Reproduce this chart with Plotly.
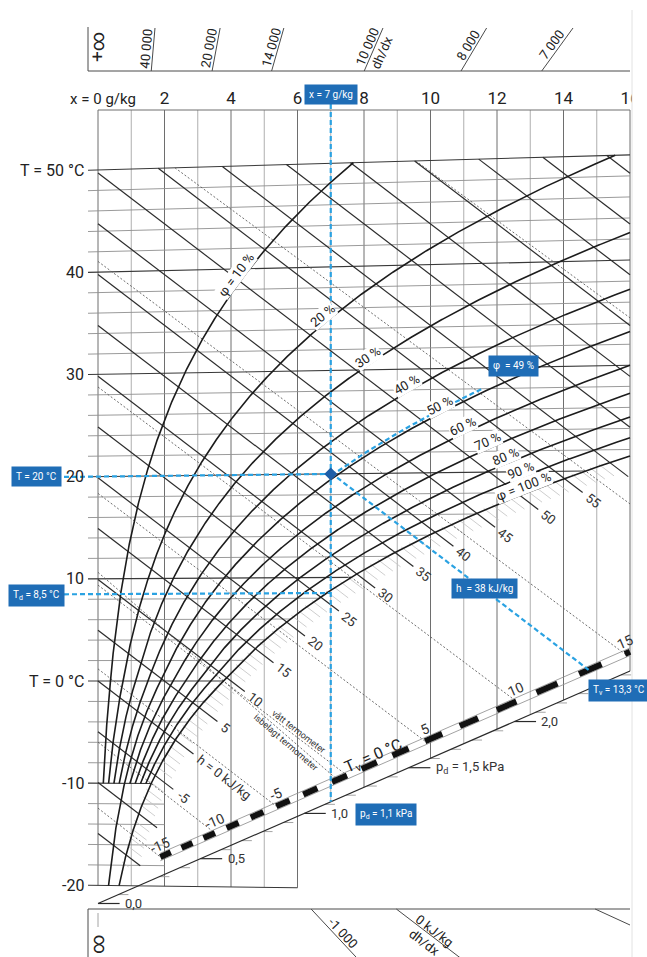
import re
import numpy as np
import plotly.graph_objects as go

# Mollier h,x-diagram for moist air at p = 101.325 kPa.
# Drawing ordinate Y = h - r0*x, so the 0 °C isotherm runs horizontally.
P_AIR = 101.325      # kPa
R0 = 2.501           # kJ/g, heat of vaporisation at 0 °C
CP_AIR = 1.006       # kJ/(kg K)
CP_VAP = 0.00186     # kJ/(g K)
CW = 0.00419         # kJ/(g K), water on the wet bulb
LF = 0.3335          # kJ/g, heat of fusion (ice-covered bulb)

# ---- isoline levels and scale values --------------------------------------
X_GRID = list(range(0, 17))                                   # g/kg
X_TICKS = [0, 2, 4, 6, 8, 10, 12, 14, 16]
X_TICK_TEXT = ["x = 0 g/kg", "2", "4", "6", "8", "10", "12", "14", "16"]
T_GRID = list(range(-20, 51, 2))                              # °C
T_MAJOR = [50, 40, 30, 20, 10, 0, -10, -20]
T_TICK_TEXT = ["T = 50 °C", "40", "30", "20", "10", "T = 0 °C", "-10", "-20"]
RH_LEVELS = [10, 20, 30, 40, 50, 60, 70, 80, 90, 100]         # %
RH_TEXT = ["φ = 10 %", "20 %", "30 %", "40 %", "50 %", "60 %", "70 %",
           "80 %", "90 %", "φ = 100 %"]
RH_TEXT_AT = [4.33, 6.89, 8.21, 9.38, 10.38, 11.04, 11.79, 12.33, 12.78, 12.87]
RH_TO_MINUS20 = [50, 100]
H_LEVELS = list(range(-15, 91, 5))                            # kJ/kg
H_TICKS = [h for h in range(-19, 60) if h % 5]
H_TEXT = {-5: "-5", 0: "h = 0 kJ/kg", 5: "5", 10: "10", 15: "15", 20: "20",
          25: "25", 30: "30", 35: "35", 40: "40", 45: "45", 50: "50", 55: "55"}
TV_LINES = [-15, -10, -5, 0, 5, 10, 15, 20, 25]               # wet bulb, °C
TV_TICKS = [-15, -10, -5, 0, 5, 10, 15]
TV_TEXT = ["-15", "-10", "-5", "T<sub>v</sub> = 0 °C", "5", "10", "15"]
PD_MINOR = [round(0.1 * i, 1) for i in range(0, 26)]          # kPa
PD_MAJOR = [0.0, 0.5, 1.0, 1.5, 2.0]
PD_TEXT = ["0,0", "0,5", "1,0", "p<sub>d</sub> = 1,5 kPa", "2,0"]
DHDX_TOP = [40000, 20000, 14000, 10000, 8000, 7000]           # kJ/kg
DHDX_TOP_TEXT = ["40 000", "20 000", "14 000", "10 000", "8 000", "7 000"]
DHDX_BOTTOM = [-1000, 0, 1000]

# worked example
EX_X, EX_T, EX_RH, EX_H, EX_TD, EX_TV, EX_PD = 7.0, 20.0, 49, 38, 8.5, 13.3, 1.1

# ---- page geometry ----------------------------------------------------------
W, H = 647, 957
X0, KX = 98.0, 33.25        # pixel of x = 0, pixels per g/kg
Y0, KY = 681.0, 10.16       # pixel of Y = 0, pixels per kJ/kg
A_TV, A_PD, B_SC = -20.0, -21.9, 1.43   # wet-bulb and vapour-pressure scale lines
FONT = "Roboto, sans-serif"


def gx(px):
    return (px - X0) / KX


def gy(py):
    return (Y0 - py) / KY


# ---- psychrometrics ---------------------------------------------------------
def p_sat(T):
    T = np.asarray(T, float)
    water = 0.61094 * np.exp(17.625 * T / (T + 243.04))
    ice = 0.61115 * np.exp(22.452 * T / (T + 272.55))
    return np.where(T >= 0, water, ice)


def x_rh(T, rh):
    pv = rh / 100.0 * p_sat(T)
    return 622.0 * pv / (P_AIR - pv)


def Y_T(T, x):
    return CP_AIR * T + CP_VAP * x * T


def T_on_rh(x, rh):
    ps = x * P_AIR / ((rh / 100.0) * (622.0 + x))
    a = np.log(ps / 0.61094)
    return 243.04 * a / (17.625 - a)


_T = np.linspace(-30, 45, 15001)
_XS = x_rh(_T, 100)
_HS = CP_AIR * _T + _XS * (R0 + CP_VAP * _T)


def x_sat_h(h):
    return float(np.interp(h, _HS, _XS))


def sat_state(t):
    xs = float(x_rh(t, 100))
    return xs, CP_AIR * t + xs * (R0 + CP_VAP * t)


Y_TOP50 = Y_T(50, 0)
K50 = CP_VAP * 50


def line_start(c0, m):
    if c0 <= Y_TOP50:
        return 0.0
    return (c0 - Y_TOP50) / (K50 - m)


def wb_line(tv, s):
    xs, hs = sat_state(tv)
    return hs - s * xs, s - R0


def tv_x(tv):
    c0, m = wb_line(tv, CW * tv)
    return (c0 - A_TV) / (B_SC - m)


def pd_x(pd):
    return 622.0 * pd / (P_AIR - pd)


def text_w(s, size):
    s = re.sub("<[^>]+>", "", s)
    return sum(0.28 if c == " " else 0.52 for c in s) * size


ANG_H = np.degrees(np.arctan(R0 * KY / KX))
ANG_SC = np.degrees(np.arctan(B_SC * KY / KX))

# ---- line collections -------------------------------------------------------
STYLES = {
    "grid_minor": dict(color="#a6a6a6", width=0.9),
    "grid_major": dict(color="#6e6e6e", width=1.0),
    "iso_minor": dict(color="#8e8e8e", width=0.9),
    "iso_major": dict(color="#383838", width=1.1),
    "h_tick": dict(color="#c2c2c2", width=0.8),
    "h_line": dict(color="#2c2c2c", width=1.2),
    "tv_line": dict(color="#5c5c5c", width=0.9, dash="2px,2px"),
    "rh": dict(color="#1c1c1c", width=1.6),
    "tick_gray": dict(color="#9a9a9a", width=0.9),
    "scale": dict(color="#2a2a2a", width=1.2),
    "band_edge": dict(color="#8a8a8a", width=0.8),
    "band": dict(color="#111111", width=6),
    "frame": dict(color="#4a4a4a", width=1.0),
    "blue": dict(color="#2aa2e2", width=2.2, dash="5px,3px"),
}
buckets = {k: ([], []) for k in STYLES}


def add(style, xs, ys):
    bx, by = buckets[style]
    bx.extend(float(v) for v in xs)
    by.extend(float(v) for v in ys)
    bx.append(None)
    by.append(None)


annotations = []


def note(x, y, text, size=12, angle=0, color="#222222", **kw):
    annotations.append(dict(x=x, y=y, xref="x", yref="y", text=text,
                            showarrow=False, textangle=angle,
                            font=dict(family=FONT, size=size, color=color), **kw))


# vertical x-grid
Y_TOP_BORDER = gy(110)
for xv in X_GRID:
    y_bot = Y_T(-20, xv) if xv <= 6 else A_PD + B_SC * xv
    add("grid_major" if xv % 2 == 0 else "grid_minor", [xv, xv], [Y_TOP_BORDER, y_bot])
add("grid_major", [0, 16], [Y_TOP_BORDER, Y_TOP_BORDER])

# isotherms
X_LEFT = gx(88)
for T in T_GRID:
    if T == -20:
        x_end = 6.0
    elif -20 < T < -10:
        x_end = 2.0
    else:
        x_end = min(16.0, float(x_rh(T, 100)))
    add("iso_major" if T % 10 == 0 else "iso_minor",
        [X_LEFT, x_end], [Y_T(T, X_LEFT), Y_T(T, x_end)])

for T, txt in zip(T_MAJOR, T_TICK_TEXT):
    note(gx(86), Y_T(T, X_LEFT), txt, size=16, xanchor="right")

# short 1 kJ/kg enthalpy ticks around saturation
for h in H_TICKS:
    xs = x_sat_h(h)
    x1 = max(0.0, xs - 0.05)
    x2 = min(16.0, xs + 0.4, (h - A_TV) / (B_SC + R0) - 0.1)
    if x1 < x2:
        add("h_tick", [x1, x2], [h - R0 * x1, h - R0 * x2])

# enthalpy lines
for h in H_LEVELS:
    xs = x_sat_h(h)
    x0 = line_start(h, -R0)
    x1 = min(16.0, xs + 0.55, (h - A_TV) / (B_SC + R0))
    if x0 < x1:
        add("h_line", [x0, x1], [h - R0 * x0, h - R0 * x1])
    if h in H_TEXT:
        txt = H_TEXT[h]
        half = text_w(txt, 13) / 2 * np.cos(np.radians(ANG_H)) / KX
        cx = xs + 0.7 + half
        note(cx, h - R0 * cx, txt, size=13, angle=ANG_H, color="#333333")

# wet-bulb (dotted) lines
def draw_wb(c0, m):
    x0 = line_start(c0, m)
    x1 = min(16.0, (c0 - A_TV) / (B_SC - m))
    if x0 < x1:
        add("tv_line", [x0, x1], [c0 + m * x0, c0 + m * x1])


for tv in TV_LINES:
    draw_wb(*wb_line(tv, CW * tv))
draw_wb(*wb_line(0, -LF))

# labels along the two 0 °C bulb lines
for txt, xa, s, off in [("vått termometer", 5.95, CW * 0, -5), ("isbelagt termometer", 5.75, -LF, 6)]:
    c0, m = wb_line(0, s)
    ang = np.degrees(np.arctan(-m * KY / KX))
    sn, cs = np.sin(np.radians(ang)), np.cos(np.radians(ang))
    pxv, pyv = X0 + KX * xa, Y0 - KY * (c0 + m * xa)
    note(gx(pxv - off * sn), gy(pyv + off * cs), txt, size=9, angle=ang, color="#333333")

# relative humidity curves
for rh in RH_LEVELS:
    t0 = -20 if rh in RH_TO_MINUS20 else -10
    T = np.linspace(t0, 50, 1401)
    x = x_rh(T, rh)
    Y = Y_T(T, x)
    if x[-1] > 16:
        i = int(np.argmax(x > 16))
        f = (16 - x[i - 1]) / (x[i] - x[i - 1])
        Te = T[i - 1] + f * (T[i] - T[i - 1])
        x = np.append(x[:i], 16.0)
        Y = np.append(Y[:i], Y_T(Te, 16.0))
    add("rh", x, Y)

for rh, txt, xa in zip(RH_LEVELS, RH_TEXT, RH_TEXT_AT):
    Ta = T_on_rh(xa, rh)
    Ya = Y_T(Ta, xa)
    xb = xa + 0.05
    Yb = Y_T(T_on_rh(xb, rh), xb)
    tx, ty = (xb - xa) * KX, -(Yb - Ya) * KY
    n = np.hypot(tx, ty)
    tx, ty = tx / n, ty / n
    ang = np.degrees(np.arctan2(ty, tx))
    nx, ny = ty, -tx
    off = 7.0
    note(xa + nx * off / KX, Ya - ny * off / KY, txt, size=13, angle=ang,
         color="#1c1c1c", bgcolor="white", borderpad=0)

# vapour pressure scale
add("scale", [0, 16], [A_PD, A_PD + B_SC * 16])
for pd in PD_MINOR:
    xv = pd_x(pd)
    if xv > 16:
        continue
    yv = A_PD + B_SC * xv
    if pd in PD_MAJOR:
        add("scale", [xv, xv + 0.65], [yv, yv])
    else:
        add("tick_gray", [xv, xv + 0.3], [yv, yv])
for pd, txt in zip(PD_MAJOR, PD_TEXT):
    xv = pd_x(pd)
    note(xv + 0.75, A_PD + B_SC * xv, txt, size=13, xanchor="left", color="#333333")

# wet-bulb scale band
xa = tv_x(-15)
for d in (0.37, -0.37):
    add("band_edge", [xa, 16], [A_TV + B_SC * xa + d, A_TV + B_SC * 16 + d])
for k in range(-15, 16, 2):
    x1 = tv_x(k)
    x2 = min(tv_x(k + 1), 16.0)
    if x1 < 16:
        add("band", [x1, x2], [A_TV + B_SC * x1, A_TV + B_SC * x2])

sa, ca = np.sin(np.radians(ANG_SC)), np.cos(np.radians(ANG_SC))
for tv, txt in zip(TV_TICKS, TV_TEXT):
    xv = tv_x(tv)
    pxv, pyv = X0 + KX * xv, Y0 - KY * (A_TV + B_SC * xv)
    if tv == 0:
        half = text_w(txt, 16) / 2
        cx, cy = pxv + half * ca - 7 * sa, pyv - half * sa - 7 * ca
        note(gx(cx), gy(cy), txt, size=16, angle=-ANG_SC, color="#222222")
    else:
        note(gx(pxv), gy(pyv - 12), txt, size=14, angle=-ANG_SC, color="#333333")

# dh/dx protractor scales (rays from x = 0, Y = 0)
Yb_top, Yt_top = gy(71), gy(28)
add("frame", [gx(88), 16], [Yb_top, Yb_top])
add("frame", [gx(88), gx(88)], [gy(27), Yb_top])
for q, txt in zip(DHDX_TOP, DHDX_TOP_TEXT):
    m = q / 1000.0 - R0
    add("frame", [Yb_top / m, Yt_top / m], [Yb_top, Yt_top])
    a = np.degrees(np.arctan(m * KY / KX))
    s, c = np.sin(np.radians(a)), np.cos(np.radians(a))
    pyv = 49.0
    pxv = X0 + KX * (gy(pyv) / m)
    note(gx(pxv - 7 * s), gy(pyv - 7 * c), txt, size=13, angle=-a, color="#222222")
    if q == 10000:
        note(gx(pxv + 9 * s), gy(pyv + 9 * c), "dh/dx", size=13, angle=-a, color="#222222")
note(gx(97), gy(47), "+∞", size=19, angle=-90, color="#222222")

Yb_bot = gy(909)
add("frame", [gx(88), 16], [Yb_bot, Yb_bot])
add("frame", [gx(88), gx(88)], [Yb_bot, gy(957)])
add("tick_gray", [gx(98), gx(98)], [gy(913), gy(927)])
note(gx(97), gy(944), "∞", size=19, angle=-90, color="#222222")
for q in DHDX_BOTTOM:
    m = q / 1000.0 - R0
    xb = Yb_bot / m
    ye = gy(960)
    xe = ye / m
    if xe > 16:
        xe, ye = 16.0, m * 16.0
    add("frame", [xb, xe], [Yb_bot, ye])
a_bot = {q: np.degrees(np.arctan(-(q / 1000.0 - R0) * KY / KX)) for q in DHDX_BOTTOM}
for q, txt, pyv, off in [(-1000, "-1 000", 938, 7), (0, "0 kJ/kg", 935, 6), (0, "dh/dx", 935, -10)]:
    m = q / 1000.0 - R0
    a = a_bot[q]
    s, c = np.sin(np.radians(a)), np.cos(np.radians(a))
    pxv = X0 + KX * (gy(pyv) / m)
    note(gx(pxv + off * s), gy(pyv - off * c), txt, size=13, angle=a, color="#222222")

# worked example in blue
Y_ST = Y_T(EX_T, EX_X)
add("blue", [EX_X, EX_X], [gy(104), A_PD + B_SC * EX_X])
xl = gx(64)
add("blue", [xl, EX_X], [Y_T(EX_T, xl), Y_ST])
add("blue", [xl, EX_X], [Y_T(EX_TD, xl), Y_T(EX_TD, EX_X)])
T49 = np.linspace(EX_T, 28.0, 60)
x49 = x_rh(T49, EX_RH)
add("blue", np.r_[EX_X, x49[1:]], np.r_[Y_ST, Y_T(T49[1:], x49[1:])])
x_tv = (EX_H - A_TV) / (B_SC + R0)
add("blue", [EX_X, x_tv], [EX_H - R0 * EX_X, EX_H - R0 * x_tv])

BOX = dict(bgcolor="#1f6db6", borderpad=4, color="white", size=10)


def box(x, y, text, **kw):
    annotations.append(dict(x=x, y=y, xref="x", yref="y", text=text, showarrow=False,
                            bgcolor=BOX["bgcolor"], borderpad=BOX["borderpad"],
                            font=dict(family=FONT, size=BOX["size"], color=BOX["color"]), **kw))


box(EX_X, gy(94), "x = %g g/kg" % EX_X)
box(gx(513), gy(366), "φ  = %d %%" % EX_RH)
box(gx(36), gy(476), "T = %g °C" % EX_T)
box(gx(36), gy(595), ("T<sub>d</sub> = %g °C" % EX_TD).replace(".", ","))
box(gx(484), gy(588), "h  = %d kJ/kg" % EX_H)
box(gx(588), gy(690), ("T<sub>v</sub> = %g °C" % EX_TV).replace(".", ","), xanchor="left")
box(gx(355), gy(814), ("p<sub>d</sub> = %g kPa" % EX_PD).replace(".", ","), xanchor="left")

# ---- figure -----------------------------------------------------------------
fig = go.Figure()
for name, style in STYLES.items():
    bx, by = buckets[name]
    if bx:
        fig.add_trace(go.Scatter(x=bx, y=by, mode="lines", line=style,
                                 hoverinfo="skip", showlegend=False))

fig.add_trace(go.Scatter(x=[EX_X], y=[Y_ST], mode="markers",
                         marker=dict(symbol="diamond", size=10, color="#1d5ea8"),
                         hoverinfo="skip", showlegend=False))

tick_x = [gx(103) if v == 0 else v for v in X_TICKS]
fig.add_trace(go.Scatter(x=tick_x, y=[gy(100)] * len(X_TICKS), mode="text",
                         text=X_TICK_TEXT, textposition="middle center",
                         textfont=dict(family=FONT, size=[15] + [17] * (len(X_TICKS) - 1),
                                       color="#222222"),
                         hoverinfo="skip", showlegend=False))

fig.update_layout(
    width=W, height=H,
    margin=dict(l=0, r=0, t=0, b=0),
    paper_bgcolor="white", plot_bgcolor="white",
    xaxis=dict(range=[gx(0), gx(W)], visible=False, fixedrange=True),
    yaxis=dict(range=[gy(H), gy(0)], visible=False, fixedrange=True),
    annotations=annotations,
    shapes=[
        dict(type="rect", xref="paper", yref="paper", x0=632 / W, x1=1, y0=0, y1=1,
             fillcolor="white", line=dict(width=0), layer="above"),
        dict(type="line", xref="paper", yref="paper", x0=632 / W, x1=632 / W,
             y0=0, y1=1 - 10 / H, line=dict(color="#e2e2e2", width=1), layer="above"),
    ],
)

fig.write_html("out.html")
